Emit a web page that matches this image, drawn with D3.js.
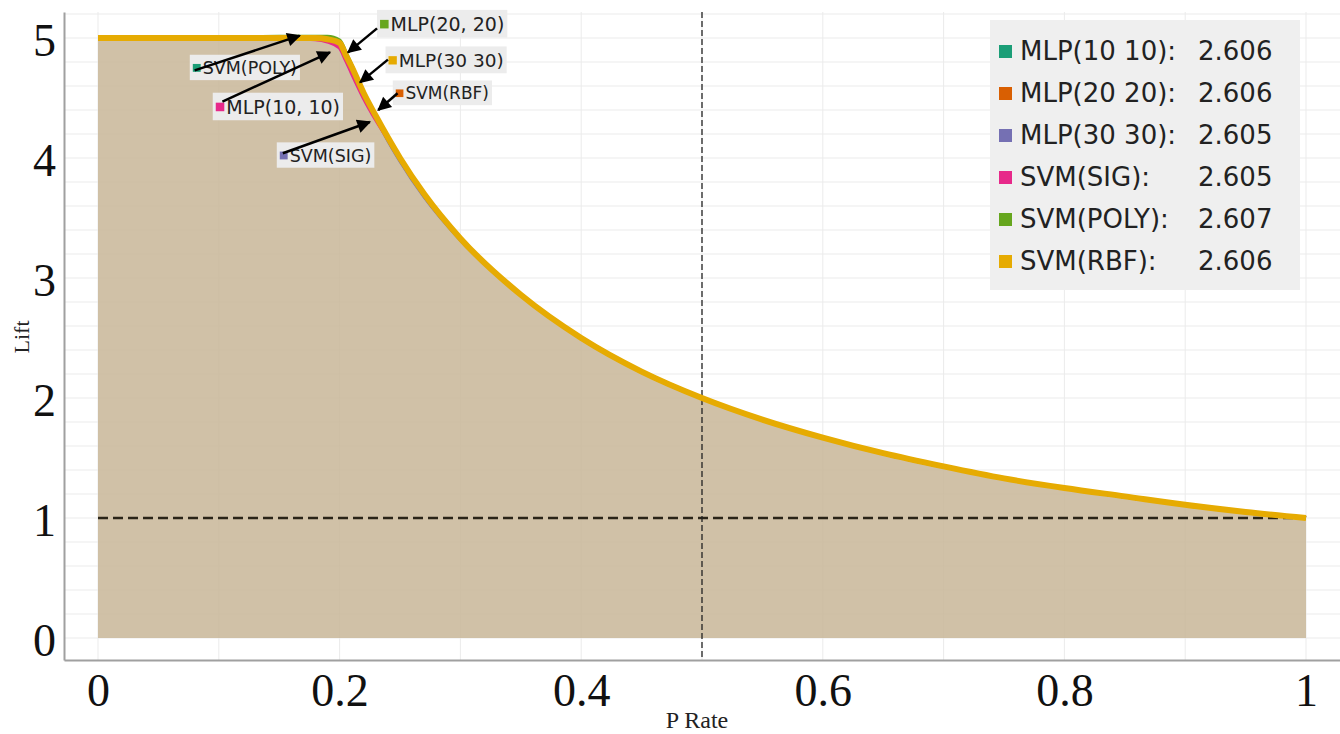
<!DOCTYPE html>
<html>
<head>
<meta charset="utf-8">
<script src="https://cdn.jsdelivr.net/npm/d3@7"></script>
<style>
    body { margin: 0; background: #fff; }
    svg { display: block; }
</style>
</head>
<body>
<svg id="chart" width="1340" height="734"></svg>
<script>
// data
const pRate = [0, 0.05, 0.1, 0.15, 0.18, 0.19, 0.2, 0.205, 0.21, 0.22, 0.23, 0.24, 0.25, 0.27, 0.3, 0.35, 0.4, 0.45, 0.5, 0.55, 0.6, 0.65, 0.7, 0.75, 0.8, 0.85, 0.9, 0.95, 1];
const liftMlp10 = [5, 5, 5, 5, 5, 4.99, 4.96, 4.86, 4.76, 4.54, 4.35, 4.17, 4.0, 3.7, 3.33, 2.86, 2.5, 2.22, 2.0, 1.82, 1.67, 1.54, 1.43, 1.33, 1.25, 1.18, 1.11, 1.05, 1.0];
const liftMlp20 = [5, 5, 5, 5, 5, 4.99, 4.96, 4.86, 4.76, 4.54, 4.35, 4.17, 4.0, 3.7, 3.33, 2.86, 2.5, 2.22, 2.0, 1.82, 1.67, 1.54, 1.43, 1.33, 1.25, 1.18, 1.11, 1.05, 1.0];
const liftMlp30 = [5, 5, 5, 5, 5, 4.99, 4.96, 4.86, 4.76, 4.53, 4.34, 4.15, 3.98, 3.68, 3.32, 2.86, 2.5, 2.22, 2.0, 1.82, 1.67, 1.54, 1.43, 1.33, 1.25, 1.18, 1.11, 1.05, 1.0];
const liftSig = [5, 5, 5, 5, 4.99, 4.97, 4.92, 4.82, 4.71, 4.5, 4.32, 4.16, 4.0, 3.7, 3.33, 2.86, 2.5, 2.22, 2.0, 1.82, 1.67, 1.54, 1.43, 1.33, 1.25, 1.18, 1.11, 1.05, 1.0];
const liftPoly = [5, 5, 5, 5.01, 5.01, 5.01, 4.98, 4.88, 4.77, 4.54, 4.35, 4.17, 4.0, 3.7, 3.33, 2.86, 2.5, 2.22, 2.0, 1.82, 1.67, 1.54, 1.43, 1.33, 1.25, 1.18, 1.11, 1.05, 1.0];
const liftRbf = [5, 5, 5, 5, 5, 4.99, 4.96, 4.86, 4.76, 4.54, 4.35, 4.17, 4.0, 3.7, 3.33, 2.86, 2.5, 2.22, 2.0, 1.82, 1.67, 1.54, 1.43, 1.33, 1.25, 1.18, 1.11, 1.05, 1.0];

const legendNames = ['MLP(10 10):', 'MLP(20 20):', 'MLP(30 30):', 'SVM(SIG):', 'SVM(POLY):', 'SVM(RBF):'];
const legendScores = ['2.606', '2.606', '2.605', '2.605', '2.607', '2.606'];
const seriesColors = d3.schemeDark2.slice(0, 6);

const xTicks = [0, 0.2, 0.4, 0.6, 0.8, 1];
const yTicks = [0, 1, 2, 3, 4, 5];

// callout labels: text, colour index, box left (p rate), baseline (lift), font size
const calloutText = ['MLP(20, 20)', 'MLP(30 30)', 'SVM(RBF)', 'SVM(POLY)', 'MLP(10, 10)', 'SVM(SIG)'];
const calloutColor = [4, 5, 1, 0, 3, 2];
const calloutX = [0.231, 0.238, 0.244, 0.076, 0.095, 0.148];
const calloutY = [5.06, 4.76, 4.49, 4.70, 4.37, 3.97];
const calloutSize = [19, 18.5, 17, 17.5, 19, 17.5];
// arrows: from (x0,y0) to (x1,y1), in p rate / lift
const arrowFrom = [[0.231, 5.08], [0.240, 4.82], [0.248, 4.54], [0.080, 4.73], [0.103, 4.47], [0.153, 4.04]];
const arrowTo = [[0.207, 4.88], [0.217, 4.63], [0.232, 4.40], [0.167, 5.02], [0.192, 4.88], [0.225, 4.30]];

const svg = d3.select('#chart');
const x = d3.scaleLinear().domain([-34 / 1208, 1 + 34 / 1208]).range([64, 1340]);
const y = d3.scaleLinear().domain([-22 / 120, 5 + 26 / 120]).range([660, 12]);

// grid
const grid = svg.append('g');
grid.selectAll('.vg')
    .data(d3.range(0, 11).map(d => d / 10))
    .enter().append('line')
    .attr('x1', d => x(d)).attr('x2', d => x(d))
    .attr('y1', y.range()[1]).attr('y2', y.range()[0])
    .attr('stroke', '#ebebeb').attr('stroke-width', 1);
grid.selectAll('.hg')
    .data(d3.range(0, 27).map(d => d / 5))
    .enter().append('line')
    .attr('x1', 64).attr('x2', 1340)
    .attr('y1', d => y(d)).attr('y2', d => y(d))
    .attr('stroke', '#ebebeb').attr('stroke-width', 1);

// area under the curve
const area = d3.area()
    .curve(d3.curveMonotoneX)
    .x((d, i) => x(pRate[i]))
    .y0(y(0))
    .y1(d => y(d));
svg.append('path')
    .attr('d', area(liftRbf))
    .attr('fill', 'rgb(200,183,152)')
    .attr('fill-opacity', 0.86);

// reference lines
svg.append('line')
    .attr('x1', x(0)).attr('x2', x(1))
    .attr('y1', y(1)).attr('y2', y(1))
    .attr('stroke', '#2a2418').attr('stroke-width', 2.5)
    .attr('stroke-dasharray', '10,5');
svg.append('line')
    .attr('x1', x(0.5)).attr('x2', x(0.5))
    .attr('y1', y.range()[1]).attr('y2', y.range()[0])
    .attr('stroke', '#222').attr('stroke-width', 1.3)
    .attr('stroke-dasharray', '6,3');

// lines
const line = d3.line()
    .curve(d3.curveMonotoneX)
    .x((d, i) => x(pRate[i]))
    .y(d => y(d));
const series = [liftMlp10, liftMlp20, liftMlp30, liftSig, liftPoly];
series.forEach((s, i) => {
    svg.append('path')
        .attr('d', line(s))
        .attr('fill', 'none')
        .attr('stroke', seriesColors[i])
        .attr('stroke-width', 4)
        .attr('stroke-linejoin', 'round');
});
svg.append('path')
    .attr('d', line(liftRbf))
    .attr('fill', 'none')
    .attr('stroke', seriesColors[5])
    .attr('stroke-width', 6)
    .attr('stroke-linejoin', 'round');

// axes
const xAxis = d3.axisBottom(x).tickValues(xTicks).tickSize(0).tickPadding(13)
    .tickFormat(d3.format('~g'));
const yAxis = d3.axisLeft(y).tickValues(yTicks).tickSize(0).tickPadding(8)
    .tickFormat(d3.format('~g'));
const gx = svg.append('g').attr('transform', 'translate(0,660)').call(xAxis);
const gy = svg.append('g').attr('transform', 'translate(64,0)').call(yAxis);
[gx, gy].forEach(g => {
    g.select('.domain').attr('stroke', '#a0a0a0').attr('stroke-width', 2);
    g.selectAll('text')
        .attr('font-family', '"Liberation Serif", "Times New Roman", serif')
        .attr('font-size', 46)
        .attr('fill', '#111');
});
gy.selectAll('text').attr('dy', '0.37em');

svg.append('text')
    .attr('x', 697).attr('y', 728)
    .attr('text-anchor', 'middle')
    .attr('font-family', '"Liberation Serif", serif')
    .attr('font-size', 24)
    .attr('fill', '#222')
    .text('P Rate');
svg.append('text')
    .attr('transform', 'translate(29,337) rotate(-90)')
    .attr('text-anchor', 'middle')
    .attr('font-family', '"Liberation Serif", serif')
    .attr('font-size', 22)
    .attr('fill', '#222')
    .text('Lift');

// callouts
const calloutG = svg.append('g').attr('font-family', '"DejaVu Sans", Verdana, sans-serif');
calloutText.forEach((t, i) => {
    const fs = calloutSize[i];
    const left = x(calloutX[i]);
    const base = y(calloutY[i]);
    const g = calloutG.append('g');
    const bg = g.append('rect');
    const sq = fs * 0.45;
    g.append('rect')
        .attr('x', left + 3).attr('y', base - fs * 0.35 - sq / 2)
        .attr('width', sq).attr('height', sq)
        .attr('fill', seriesColors[calloutColor[i]]);
    const txt = g.append('text')
        .attr('x', left + 5 + sq).attr('y', base)
        .attr('font-size', fs)
        .attr('fill', '#222')
        .text(t);
    const w = txt.node().getComputedTextLength();
    bg.attr('x', left).attr('y', base - fs * 1.1)
        .attr('width', w + sq + 8).attr('height', fs * 1.45)
        .attr('fill', '#ececec');
});

svg.append('defs').append('marker')
    .attr('id', 'arrow')
    .attr('viewBox', '0 0 10 10')
    .attr('refX', 9).attr('refY', 5)
    .attr('markerWidth', 7).attr('markerHeight', 5.5)
    .attr('orient', 'auto')
    .append('path')
    .attr('d', 'M0,0 L10,5 L0,10 z')
    .attr('fill', '#000');
arrowFrom.forEach((a, i) => {
    svg.append('line')
        .attr('x1', x(a[0])).attr('y1', y(a[1]))
        .attr('x2', x(arrowTo[i][0])).attr('y2', y(arrowTo[i][1]))
        .attr('stroke', '#000').attr('stroke-width', 2.5)
        .attr('marker-end', 'url(#arrow)');
});

// legend
const legend = svg.append('g').attr('font-family', '"DejaVu Sans", Verdana, sans-serif');
legend.append('rect')
    .attr('x', 990).attr('y', 20).attr('width', 310).attr('height', 270)
    .attr('fill', '#efefef');
legendNames.forEach((n, i) => {
    const base = 60 + i * 42;
    legend.append('rect')
        .attr('x', 999).attr('y', base - 15).attr('width', 13).attr('height', 13)
        .attr('fill', seriesColors[i]);
    legend.append('text')
        .attr('x', 1020).attr('y', base)
        .attr('font-size', 26).attr('fill', '#222')
        .text(n);
    legend.append('text')
        .attr('x', 1198).attr('y', base)
        .attr('font-size', 26).attr('fill', '#222')
        .text(legendScores[i]);
});
</script>
</body>
</html>
